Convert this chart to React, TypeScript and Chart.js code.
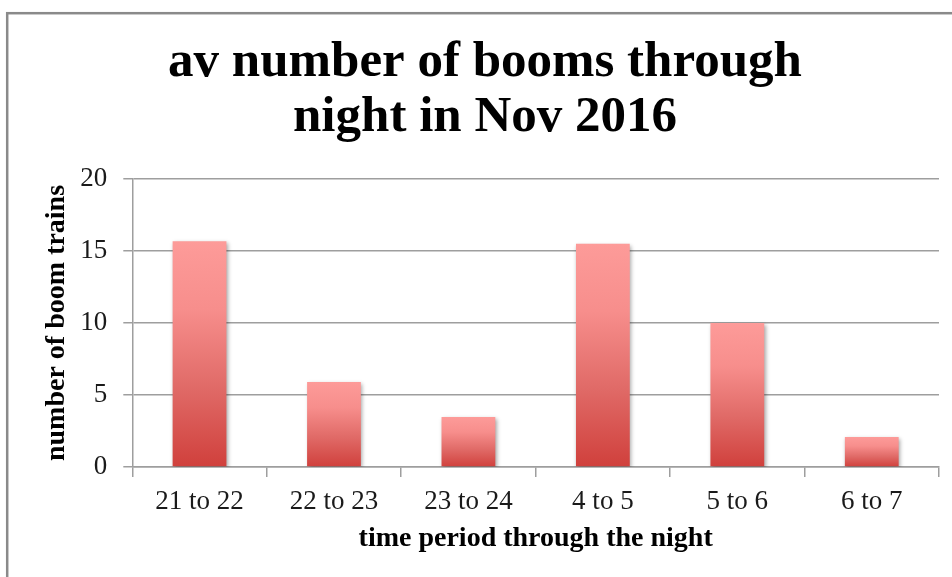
import React, { useEffect, useRef } from 'react';
import { Chart, registerables } from 'chart.js';

Chart.register(...registerables);

const categories = ['21 to 22', '22 to 23', '23 to 24', '4 to 5', '5 to 6', '6 to 7'];
const values = [15.67, 5.9, 3.47, 15.5, 10.0, 2.08];
const yMin = 0;
const yMax = 20;
const yStep = 5;
const titleLines = ['av number of booms through', 'night in Nov 2016'];
const xTitle = 'time period through the night';
const yTitle = 'number of boom trains';

const SERIF = "'Liberation Serif', 'Times New Roman', serif";
const GRID = '#9e9e9e';

const framePlugin = {
  id: 'frame',
  beforeDraw(chart: any) {
    const c = chart.ctx;
    c.save();
    c.fillStyle = '#ffffff';
    c.fillRect(0, 0, chart.width, chart.height);
    c.strokeStyle = '#8a8a8a';
    c.lineWidth = 2.5;
    c.strokeRect(7.2, 13.2, 3000, 3000);
    c.restore();
  },
};

const shadowPlugin = {
  id: 'barShadow',
  beforeDatasetsDraw(chart: any) {
    const c = chart.ctx;
    c.save();
    c.shadowColor = 'rgba(0,0,0,0.35)';
    c.shadowBlur = 4;
    c.shadowOffsetX = 1.5;
    c.shadowOffsetY = 2;
  },
  afterDatasetsDraw(chart: any) {
    chart.ctx.restore();
  },
};

function barGradient(context: any) {
  const chart = context.chart;
  const { chartArea, scales } = chart;
  if (!chartArea || !scales || !scales.y) return '#e87472';
  const v = context.raw as number;
  const top = scales.y.getPixelForValue(v);
  const bottom = scales.y.getPixelForValue(0);
  if (!isFinite(top) || !isFinite(bottom) || top === bottom) return '#e87472';
  const g = chart.ctx.createLinearGradient(0, top, 0, bottom);
  g.addColorStop(0, '#fd9b99');
  g.addColorStop(0.3, '#f78e8c');
  g.addColorStop(0.65, '#e06a67');
  g.addColorStop(1, '#d0403c');
  return g;
}

export default function App() {
  const canvasRef = useRef<HTMLCanvasElement | null>(null);

  useEffect(() => {
    if (!canvasRef.current) return;
    const chart = new Chart(canvasRef.current, {
      type: 'bar',
      data: {
        labels: categories,
        datasets: [
          {
            data: values,
            backgroundColor: barGradient,
            borderWidth: 0,
            categoryPercentage: 0.8,
            barPercentage: 0.5,
          },
        ],
      },
      plugins: [framePlugin, shadowPlugin],
      options: {
        animation: false,
        responsive: true,
        maintainAspectRatio: false,
        layout: { padding: { left: 31, right: 13, top: 0, bottom: 0 } },
        plugins: {
          legend: { display: false },
          tooltip: { enabled: false },
          title: {
            display: true,
            text: titleLines,
            color: '#000000',
            font: { family: SERIF, size: 51, weight: 'bold', lineHeight: 1.078 },
            padding: { top: 35, bottom: 34 },
          },
        },
        scales: {
          x: {
            offset: true,
            grid: {
              offset: true,
              drawOnChartArea: false,
              drawTicks: true,
              tickLength: 10,
              color: GRID,
              lineWidth: 1.5,
            },
            border: { display: true, color: GRID, width: 1.5 },
            ticks: {
              color: '#1a1a1a',
              font: { family: SERIF, size: 27 },
              padding: 8.5,
              maxRotation: 0,
              autoSkip: false,
            },
            title: {
              display: true,
              text: xTitle,
              color: '#000000',
              font: { family: SERIF, size: 28, weight: 'bold', lineHeight: 1.2 },
              padding: { top: 0, bottom: 21 },
            },
            afterFit(scale: any) {
              scale.height = 110;
            },
          },
          y: {
            min: yMin,
            max: yMax,
            grid: {
              color: GRID,
              lineWidth: 1.5,
              drawTicks: true,
              tickLength: 9,
            },
            border: { display: true, color: GRID, width: 1.5 },
            ticks: {
              stepSize: yStep,
              color: '#1a1a1a',
              font: { family: SERIF, size: 27 },
              padding: 16,
            },
            title: {
              display: true,
              text: yTitle,
              color: '#000000',
              font: { family: SERIF, size: 28, weight: 'bold', lineHeight: 1.2 },
              padding: { top: 9, bottom: 0 },
            },
            afterFit(scale: any) {
              scale.width = 101.3;
            },
          },
        },
      },
    } as any);
    return () => chart.destroy();
  }, []);

  return (
    <div style={{ position: 'fixed', left: 0, top: 0, width: 952, height: 577, background: '#fff' }}>
      <canvas ref={canvasRef} />
    </div>
  );
}
